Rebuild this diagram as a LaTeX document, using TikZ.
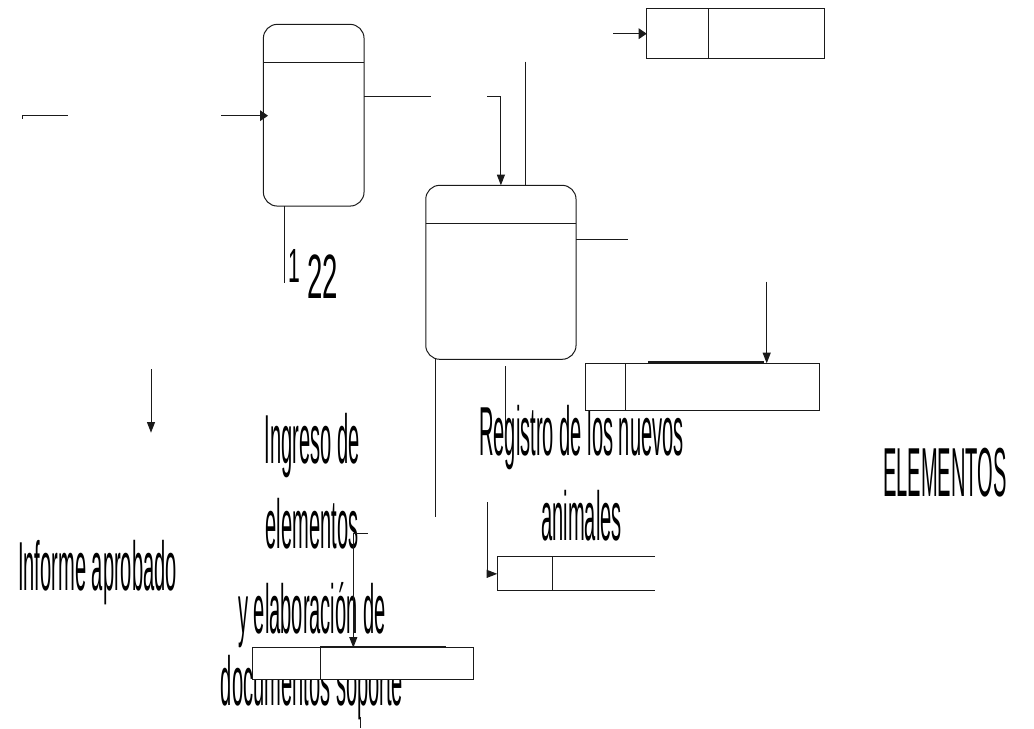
\documentclass[tikz,border=0pt]{standalone}
\usepackage{fontspec}
\setmainfont{Liberation Sans}
\usepackage{graphicx}
\usetikzlibrary{arrows.meta,calc}
\definecolor{ink}{HTML}{1A1A1A}
\newcommand{\thin}[1]{\scalebox{0.29}[1]{#1}}
\tikzset{
  proc/.style={draw=ink,line width=.75pt,rounded corners=10.5pt,fill=white,inner sep=0pt,outer sep=0pt},
  store/.style={draw=ink,line width=.75pt,fill=white,inner sep=0pt,outer sep=0pt},
  ar/.style={-{Triangle[length=8pt,width=6pt]},draw=ink,line width=.75pt},
  arw/.style={-{Triangle[length=6pt,width=8pt]},draw=ink,line width=.75pt},
  ln/.style={draw=ink,line width=.75pt},
  big/.style={inner sep=0pt,align=center,font=\fontsize{52}{63.75}\selectfont,text=black},
}

\begin{document}
\begin{tikzpicture}[x=.75pt,y=-.75pt]
  \useasboundingbox (0,0) rectangle (1034,728);
  % -- labels --
  \node[big,anchor=base] (inf) at (97.5,590) {\thin{Informe aprobado}};
  \node[big,anchor=north] (ing) at (312,413) {\thin{Ingreso de}\\\thin{elementos}\\\thin{y elaboración de}\\[-9.75pt]\thin{documentos soporte}};
  \node[big,anchor=north] (reg) at (581.5,405) {\thin{Registro de los nuevos}\\\thin{animales}};
  \node[big,anchor=base] (elem) at (945,496) {\thin{ELEMENTOS}};
  \node[inner sep=0pt,anchor=base west] (num) at (288,298) {\scalebox{0.44}[1]{\fontsize{36}{40}\selectfont\raisebox{12pt}{1}\hspace{13pt}\fontsize{47}{56}\selectfont 22}};
  % -- processes --
  \node[proc,minimum width=75.5pt,minimum height=136.3pt] (p1) at (313.7,115.2) {};
  \node[proc,minimum width=112.7pt,minimum height=130.5pt] (p2) at (500.9,272.3) {};
  \draw[ln] ($(p1.north west)+(0,38)$) -- ($(p1.north east)+(0,38)$);
  \draw[ln] ($(p2.north west)+(0,38)$) -- ($(p2.north east)+(0,38)$);
  % -- stores --
  \node[store,minimum width=133.2pt,minimum height=37pt] (s1) at (735.5,33.65) {};
  \draw[ln] ($(s1.north west)+(61.6,0)$) -- ($(s1.south west)+(61.6,0)$);
  \node[store,minimum width=175pt,minimum height=35.5pt] (s2) at (702.65,387) {};
  \draw[ln] ($(s2.north west)+(40,0)$) -- ($(s2.south west)+(40,0)$);
  \draw[draw=ink,line width=1.5pt] ($(s2.north west)+(62.3,-1.5)$) -- ($(s2.north west)+(178,-1.5)$);
  \node[store,draw=none,minimum width=118.3pt,minimum height=25.3pt] (s3) at (576.15,573.85) {};
  \draw[ln] (s3.north east) -- (s3.north west) -- (s3.south west) -- (s3.south east);
  \draw[ln] ($(s3.north west)+(55,0)$) -- ($(s3.south west)+(55,0)$);
  \node[store,minimum width=165.75pt,minimum height=24.2pt] (s4) at (362.8,663.85) {};
  \draw[ln] ($(s4.north west)+(67.7,0)$) -- ($(s4.south west)+(67.7,0)$);
  \draw[draw=ink,line width=1.5pt] ($(s4.north west)+(67.7,-0.4)$) -- ($(s4.north west)+(193.7,-0.4)$);
  % -- flows --
  \coordinate (a0) at (22.7,118.5);
  \coordinate (a1) at (68.3,115.7);
  \draw[ln] (a0) -- (a0 |- a1) -- (a1);
  \coordinate (in1) at (221,115.7);
  \draw[arw,shorten >=-3.5pt] (in1) -- (in1 -| p1.west);
  \coordinate (o1) at (430.7,96);
  \draw[ln] (o1 -| p1.east) -- (o1);
  \coordinate (d1) at (284.3,282.7);
  \draw[ln] (d1 |- p1.south) -- (d1);
  \coordinate (f2) at (487.3,96);
  \draw[ar] (f2) -| (p2.north);
  \coordinate (t2) at (525.7,61.7);
  \draw[ln] (t2) -- (t2 |- p2.north);
  \coordinate (o2) at (627.7,239);
  \draw[ln] (o2 -| p2.east) -- (o2);
  \coordinate (in3) at (613.3,33.7);
  \draw[arw] (in3) -- (in3 -| s1.west);
  \coordinate (in4) at (766.7,281.7);
  \draw[ar] (in4) -- (in4 |- s2.north);
  \coordinate (r0) at (505.7,366);
  \coordinate (r1) at (505.7,446);
  \draw[ln] (r0) -- (r1);
  \coordinate (b2) at (435.7,517);
  \draw[ln] (b2 |- p2.south) -- (b2);
  \coordinate (in5) at (487.7,502);
  \draw[ar] (in5) |- (s3.west);
  \coordinate (in6) at (151,369);
  \coordinate (in6e) at (151,432.7);
  \draw[ar] (in6) -- (in6e);
  \coordinate (e0) at (367.7,533.3);
  \coordinate (e1) at (353.3,533.3);
  \draw[ar] (e0) -- (e1) -- (e1 |- s4.north);
  \coordinate (q0) at (360.5,717);
  \coordinate (q1) at (360.5,728);
  \draw[ln] (q0) -- (q1);
\end{tikzpicture}
\end{document}
